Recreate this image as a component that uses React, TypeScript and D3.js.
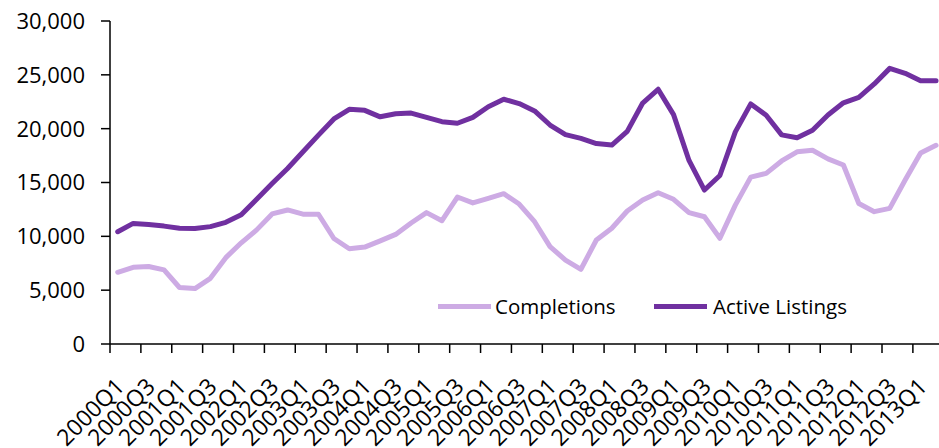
import React from "react";
import * as d3 from "d3";

const quarters: string[] = [];
for (let y = 2000; y <= 2013; y++) {
  for (let q = 1; q <= 4; q++) {
    if (y === 2013 && q > 2) break;
    quarters.push(`${y}Q${q}`);
  }
}

const completions = [
  6660, 7120, 7200, 6880, 5250, 5150, 6100, 8020, 9400, 10600,
  12080, 12450, 12060, 12050, 9800, 8850, 9000, 9580, 10180, 11240,
  12200, 11450, 13650, 13100, 13530, 13960, 13000, 11360, 9040, 7800,
  6940, 9660, 10750, 12350, 13370, 14050, 13440, 12200, 11820, 9820,
  12900, 15500, 15850, 17000, 17850, 18000, 17200, 16630, 13050, 12290,
  12600, 15230, 17750, 18450,
];

const activeListings = [
  10430, 11200, 11100, 10950, 10750, 10720, 10900, 11300, 12000, 13450,
  14900, 16300, 17850, 19400, 20900, 21800, 21700, 21100, 21380, 21450,
  21050, 20650, 20500, 21050, 22040, 22730, 22330, 21650, 20340, 19450,
  19100, 18620, 18480, 19750, 22380, 23660, 21300, 17050, 14300, 15650,
  19700, 22300, 21250, 19420, 19150, 19850, 21270, 22400, 22900, 24150,
  25600, 25140, 24450, 24450,
];

const yTicks = [0, 5000, 10000, 15000, 20000, 25000, 30000];

const seriesNames = ["Completions", "Active Listings"];
const colors = ["#CDABE4", "#7030A0"];

const W = 939;
const H = 448;
const left = 110;
const bottom = 344;
const top = 21;
const band = 15.44;
const FONT = "'Open Sans', sans-serif";

export default function App() {
  const x = d3
    .scaleBand<string>()
    .domain(quarters)
    .range([left, left + band * quarters.length])
    .paddingInner(0)
    .paddingOuter(0);
  const y = d3.scaleLinear().domain([0, 30000]).range([bottom, top]);
  const cx = (q: string) => (x(q) as number) + x.bandwidth() / 2;

  const line = d3
    .line<number>()
    .x((_, i) => cx(quarters[i]))
    .y((d) => y(d))
    .curve(d3.curveLinear);

  const fmt = d3.format(",");
  const tickIdx = quarters.map((_, i) => i).filter((i) => i % 2 === 0);

  return (
    <svg
      width={W}
      height={H}
      style={{ position: "absolute", left: 0, top: 0, background: "#fff" }}
      fontFamily={FONT}
    >
      {/* series */}
      <path d={line(completions) || ""} fill="none" stroke={colors[0]} strokeWidth={5} strokeLinejoin="round" strokeLinecap="round" />
      <path d={line(activeListings) || ""} fill="none" stroke={colors[1]} strokeWidth={5} strokeLinejoin="round" strokeLinecap="round" />

      {/* y axis */}
      <line x1={left} x2={left} y1={y(30000)} y2={bottom} stroke="#000" strokeWidth={1.5} />
      {yTicks.map((t) => (
        <g key={t}>
          <line x1={left - 9} x2={left} y1={y(t)} y2={y(t)} stroke="#000" strokeWidth={1.5} />
          <text x={85} y={y(t)} dy="0.36em" textAnchor="end" fontSize={22} fill="#000">
            {fmt(t)}
          </text>
        </g>
      ))}

      {/* x axis */}
      <line x1={left} x2={W} y1={bottom} y2={bottom} stroke="#000" strokeWidth={1.5} />
      {tickIdx.map((i) => (
        <line
          key={"t" + i}
          x1={x(quarters[i]) as number}
          x2={x(quarters[i]) as number}
          y1={bottom}
          y2={bottom + 9}
          stroke="#000"
          strokeWidth={1.5}
        />
      ))}
      {tickIdx.map((i) => (
        <text
          key={"l" + i}
          transform={`translate(${cx(quarters[i]) + 8},${bottom + 44}) rotate(-45)`}
          textAnchor="end"
          fontSize={23}
          fill="#000"
        >
          {quarters[i]}
        </text>
      ))}

      {/* legend */}
      <line x1={438} x2={491} y1={306.5} y2={306.5} stroke={colors[0]} strokeWidth={5} />
      <text x={495} y={306.5} dy="0.36em" fontSize={20.5} fill="#000">{seriesNames[0]}</text>
      <line x1={654} x2={707} y1={306.5} y2={306.5} stroke={colors[1]} strokeWidth={5} />
      <text x={713} y={306.5} dy="0.36em" fontSize={20.5} fill="#000">{seriesNames[1]}</text>
    </svg>
  );
}
